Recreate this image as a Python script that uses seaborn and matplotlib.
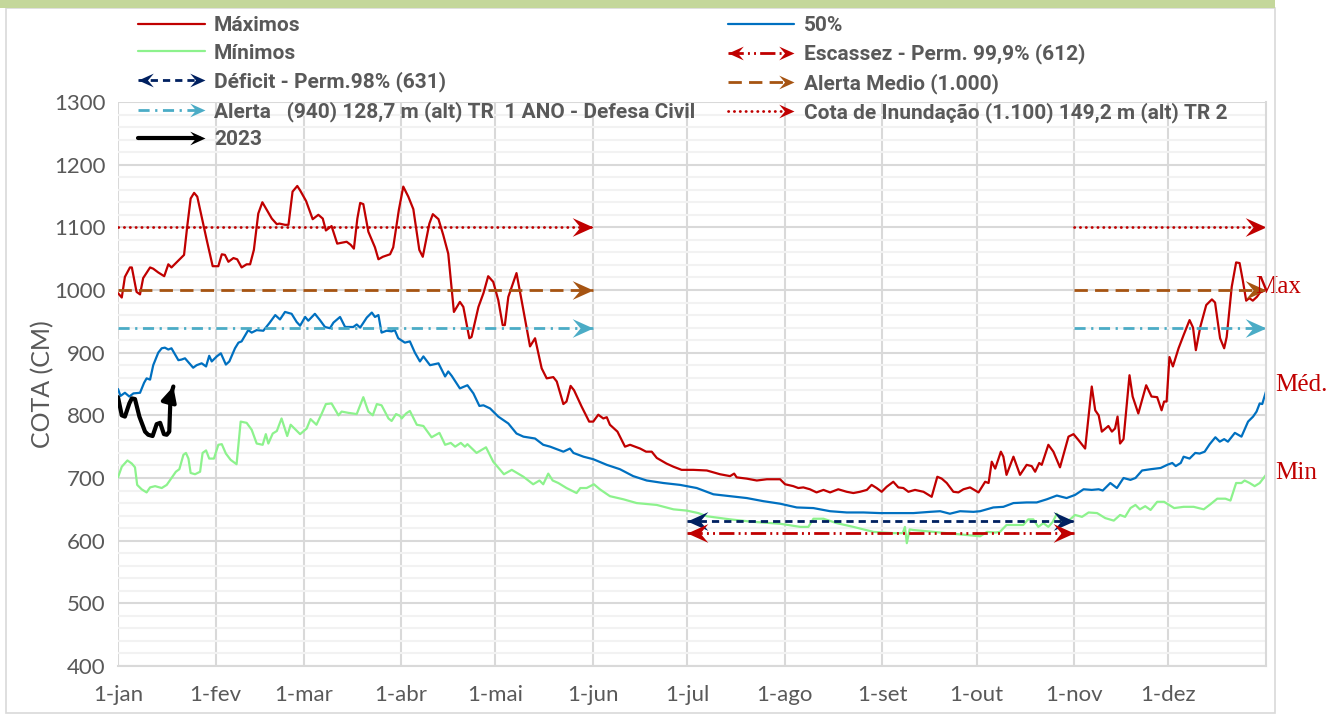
import numpy as np
import pandas as pd
import seaborn as sns
import matplotlib
matplotlib.use('Agg')
from matplotlib import pyplot as plt
from matplotlib.lines import Line2D
from matplotlib.path import Path
from matplotlib.patches import Rectangle
from matplotlib.legend_handler import HandlerBase

# ---- data (day of year, cota in cm) ----
max_days = [0, 1.2, 2.2, 3.8, 4.4, 5.9, 7, 8, 10.2, 11.2, 12.8, 14.7, 16, 17, 19.2, 21, 22, 23.1, 24.2, 25.2,
            26.6, 28.2, 30.1, 31.9, 33, 34, 35.1, 36.7, 37.9, 39.3, 40.9, 42, 43.2, 44.6, 45.9, 47.3, 48.9, 50.5,
            51.3, 53.1, 54.2, 55.5, 57, 57.9, 59.8, 61.9, 63.7, 65.1, 66.1, 67.9, 69.7, 72.7, 74, 75, 76.1, 77,
            78, 79.6, 81.7, 82.8, 84.2, 86.5, 87.5, 89.3, 90.7, 92.3, 93.9, 95.8, 96.9, 99, 100.1, 101.9, 103.4,
            105, 106.8, 108.7, 109.8, 111.7, 112.4, 114.6, 116.2, 117.7, 119.3, 120.9, 122.3, 123, 124.1, 126.7,
            128.3, 131, 132.6, 134.7, 136.3, 138.4, 139.5, 141.6, 142.6, 143.9, 145, 147.4, 149.8, 151.1, 152.7,
            154.3, 155.4, 156.4, 158.8, 161.2, 162.8, 164.4, 166, 167.9, 169.7, 171.3, 174.4, 176.6, 179.2, 182.9,
            187.2, 191.4, 194.6, 195.9, 196.7, 199.9, 203.1, 206.3, 210.5, 212.1, 214.7, 216.3, 217.9, 220, 222.1,
            224.3, 226.4, 229, 231.7, 233.8, 235.9, 238.1, 239.6, 241.2, 242.8, 244.4, 246.5, 248.1, 249.7, 251.3,
            253.4, 256.1, 257.7, 258.7, 260.5, 261.9, 263.5, 265.6, 267.2, 268.8, 270.9, 273.6, 275.7, 276.8,
            277.8, 278.9, 280.7, 281.5, 282.5, 284.7, 286.8, 288.9, 290.5, 291.6, 292.9, 293.7, 295.8, 297.4,
            299.5, 302.2, 303.8, 305.3, 307.5, 309.6, 310.7, 311.8, 312.8, 314.9, 316, 317, 317.8, 318.6, 319.7,
            321.6, 322.6, 324.4, 326.9, 328.6, 330.4, 331.8, 332.6, 333.4, 334.3, 335.4, 337.2, 338.8, 340.7,
            341.8, 342.7, 344.1, 346, 347.8, 348.8, 350.4, 351.7, 352.5, 354.1, 355.5, 356.6, 357.6, 358.7, 359.7,
            360.8, 362.1, 363.1, 365]
max_vals = [995, 988, 1021, 1036, 1036, 997, 993, 1019, 1036, 1034, 1028, 1022, 1041, 1036, 1047, 1056, 1101, 1146,
            1155, 1149, 1117, 1080, 1038, 1038, 1057, 1056, 1045, 1051, 1049, 1036, 1041, 1041, 1064, 1122, 1140,
            1128, 1114, 1105, 1106, 1104, 1104, 1157, 1166, 1159, 1142, 1113, 1120, 1114, 1095, 1102, 1074, 1077,
            1072, 1066, 1114, 1139, 1137, 1093, 1068, 1049, 1053, 1057, 1068, 1128, 1165, 1149, 1129, 1064, 1053,
            1106, 1121, 1113, 1088, 1058, 965, 981, 973, 923, 925, 973, 995, 1022, 1013, 984, 944, 944, 989, 1027,
            984, 910, 923, 875, 859, 861, 854, 818, 822, 847, 840, 814, 790, 790, 801, 795, 797, 785, 774, 750, 753,
            750, 747, 742, 742, 732, 723, 718, 713, 713, 712, 706, 703, 707, 701, 699, 696, 698, 698, 690, 687, 684,
            685, 682, 677, 681, 677, 682, 678, 676, 678, 681, 689, 684, 678, 686, 694, 685, 684, 678, 681, 678, 673,
            670, 702, 699, 692, 678, 677, 682, 685, 677, 694, 692, 726, 715, 742, 734, 705, 734, 705, 721, 719, 710,
            724, 721, 753, 742, 717, 766, 770, 761, 747, 846, 808, 800, 774, 783, 774, 779, 798, 755, 762, 864, 830,
            803, 848, 830, 829, 808, 822, 822, 893, 878, 907, 928, 952, 940, 904, 941, 976, 985, 980, 923, 907, 925,
            1005, 1044, 1043, 1016, 983, 987, 983, 989, 996, 1000]

med_days = [0, 0.8, 2.2, 3.6, 4.9, 7, 8.3, 9.1, 10.2, 11.2, 12.8, 13.9, 14.9, 16, 17, 19.2, 20.2, 21.3, 23.9, 25,
            26.6, 28, 29, 29.8, 31.4, 32.7, 34.3, 35.4, 37.2, 38.3, 39.3, 41.4, 42.5, 44.1, 46.2, 48.1, 50, 51.5,
            53.1, 55.2, 56.8, 57.9, 59.5, 60.5, 62.6, 64.2, 65.8, 67.4, 68.5, 70.6, 72.2, 74.8, 75.9, 77, 79.1,
            80.7, 81.7, 82.8, 83.8, 85.4, 87, 88, 89.1, 91.2, 92.8, 94.4, 96, 97.1, 99.2, 101.9, 104, 105, 106.1,
            108.7, 111.1, 113, 114.9, 116.2, 118.3, 120.9, 124.1, 126.7, 128.9, 132.6, 135.2, 137.4, 141.6, 143.7,
            144.8, 148, 151.1, 155.4, 159.6, 163.8, 168.1, 173.4, 178.7, 184, 189.3, 194.6, 199.9, 205.2, 210.5,
            215.8, 221.1, 226.4, 231.7, 237, 242.3, 247.6, 252.9, 258.2, 261.4, 264.5, 267.7, 272, 274.1, 278.3,
            281.5, 284.7, 288.9, 292.1, 295.3, 298.5, 301.6, 304.3, 307, 309.6, 311.8, 313.1, 315.5, 317.6, 319.7,
            321.9, 323.5, 325.6, 328.3, 331.5, 333.6, 335.2, 336.3, 337.9, 338.8, 340.7, 342.5, 343.9, 345.5,
            347.1, 348.9, 350.3, 351.7, 352.9, 355.1, 357.2, 359.3, 360.9, 362, 363, 363.8, 365]
med_vals = [842, 831, 836, 830, 835, 836, 852, 859, 857, 880, 900, 907, 908, 905, 907, 888, 889, 891, 876, 880, 883,
            878, 895, 886, 894, 899, 881, 886, 907, 916, 918, 936, 932, 936, 935, 947, 960, 953, 965, 962, 949, 943,
            957, 951, 962, 952, 941, 939, 948, 957, 941, 941, 945, 940, 956, 964, 957, 960, 932, 935, 934, 936, 923,
            916, 918, 900, 886, 894, 880, 883, 862, 870, 863, 843, 848, 835, 815, 816, 811, 798, 787, 771, 766, 763,
            753, 750, 742, 747, 740, 734, 730, 721, 714, 703, 696, 692, 689, 684, 674, 671, 668, 663, 659, 653, 652,
            647, 645, 645, 644, 644, 644, 646, 647, 643, 647, 646, 647, 653, 654, 660, 661, 661, 666, 672, 668, 673,
            682, 681, 682, 680, 692, 684, 700, 697, 700, 712, 714, 716, 721, 724, 719, 724, 734, 731, 740, 739, 742,
            754, 765, 758, 762, 758, 772, 766, 790, 798, 806, 819, 818, 838]

min_days = [0, 1.2, 3, 4.4, 5.4, 6.1, 7.5, 9.1, 10.2, 11.8, 13.9, 15.5, 17, 18.4, 19.5, 20.8, 21.6, 22.4, 23.1,
            24.5, 26.1, 26.9, 28, 29, 30.5, 31.9, 33, 34.3, 35.8, 37.7, 39, 40.9, 42.5, 44.1, 46, 47, 47.8, 49.2,
            50.5, 52, 53.8, 54.9, 57.9, 60, 61.2, 63.1, 64.8, 66.1, 67.9, 70.1, 71.1, 73.2, 75.9, 78, 79.6, 81,
            82.3, 83.8, 86, 87, 88.4, 89.7, 90.2, 91.6, 92.8, 95, 97.1, 99.7, 102.2, 104, 105.8, 107.2, 109, 110.3,
            111.1, 114, 117, 119.3, 122.7, 125.2, 128.9, 132, 134, 135.2, 136.8, 138.2, 140, 142.6, 145.8, 147, 149,
            151.3, 153.2, 156.4, 160.7, 164.9, 171.3, 176.6, 180.8, 184.5, 187.2, 194.6, 202, 210.5, 216.9, 219.5,
            221.1, 224.3, 228.5, 233.8, 240.2, 246.5, 249.5, 250.2, 250.8, 251.7, 252.9, 259.3, 265.6, 274.1,
            276.3, 278.9, 280.4, 282.5, 287.8, 289.4, 291, 292.6, 294.2, 295.8, 297.2, 298.5, 300.1, 301.6, 304.3,
            306.5, 308.6, 311.3, 313.9, 316.6, 318.6, 320.2, 321.9, 323.5, 324.9, 326.6, 328.3, 330.4, 332.6,
            335.8, 338.8, 342, 345.2, 347.3, 349.5, 352.1, 353.7, 355.5, 357.2, 358.2, 359.8, 361.4, 363, 365]
min_vals = [701, 718, 728, 723, 717, 689, 682, 677, 685, 687, 684, 689, 700, 710, 714, 737, 740, 731, 708, 706, 710,
            740, 744, 731, 731, 753, 754, 739, 729, 722, 790, 788, 777, 755, 753, 770, 755, 771, 775, 795, 767, 785,
            770, 779, 794, 785, 803, 818, 819, 800, 806, 804, 802, 829, 806, 800, 818, 816, 795, 791, 802, 799, 795,
            803, 807, 785, 783, 765, 772, 753, 756, 750, 756, 750, 754, 740, 749, 726, 706, 713, 702, 690, 696, 690,
            707, 696, 692, 684, 676, 684, 684, 690, 682, 671, 666, 660, 657, 650, 648, 644, 639, 634, 630, 627, 622,
            622, 635, 635, 628, 622, 614, 612, 612, 622, 596, 618, 617, 614, 611, 607, 614, 613, 614, 625, 625, 634,
            634, 622, 628, 622, 630, 643, 630, 629, 641, 638, 645, 644, 636, 632, 641, 638, 652, 657, 650, 655, 649,
            662, 662, 652, 654, 654, 650, 658, 667, 667, 664, 692, 692, 696, 692, 687, 692, 705]

y2023_days = [0, 1.2, 2.2, 3.6, 4.4, 5.4, 6.8, 8.6, 9.6, 11, 12.3, 13.4, 14.6, 15.5, 16.3, 16.7, 17.6]
y2023_vals = [829, 800, 798, 819, 827, 826, 798, 774, 769, 767, 786, 788, 770, 769, 774, 830, 846]

# reference levels
cheia_levels = [1100, 1000, 940]          # inundação, alerta medio, alerta
cheia_ranges = [(0, 151), (304, 365)]
seca_levels = [631, 612]                  # déficit, escassez
seca_range = (181, 304)

month_days = [0, 31, 59, 90, 120, 151, 181, 212, 243, 273, 304, 334]
month_labels = ['1-jan', '1-fev', '1-mar', '1-abr', '1-mai', '1-jun', '1-jul', '1-ago', '1-set', '1-out',
                '1-nov', '1-dez']

legend_labels = ['Máximos', 'Mínimos', 'Déficit - Perm.98% (631)',
                 'Alerta   (940) 128,7 m (alt) TR  1 ANO - Defesa Civil', '2023',
                 '50%', 'Escassez - Perm. 99,9% (612)', 'Alerta Medio (1.000)',
                 'Cota de Inundação (1.100) 149,2 m (alt) TR 2']

# ---- styles ----
RED = '#C00000'
BLUE = '#0070C0'
GREEN = '#8DF28D'
NAVY = '#002060'
BROWN = '#A65412'
CYAN = '#4BACC6'
GRAY = '#595959'

HEAD_R = Path([(0, 0), (-1, 0.45), (-0.62, 0), (-1, -0.45), (0, 0)],
              [Path.MOVETO, Path.LINETO, Path.LINETO, Path.LINETO, Path.CLOSEPOLY])
HEAD_L = Path([(0, 0), (1, 0.45), (0.62, 0), (1, -0.45), (0, 0)],
              [Path.MOVETO, Path.LINETO, Path.LINETO, Path.LINETO, Path.CLOSEPOLY])

sty_inund = dict(color=RED, dashes=(0.1, 2.0), dash_capstyle='round')
sty_medio = dict(color=BROWN, dashes=(4.8, 2.6))
sty_alerta = dict(color=CYAN, dashes=(4, 2, 0.8, 2))
sty_deficit = dict(color=NAVY, dashes=(2.6, 1.8))
sty_escassez = dict(color=RED, dashes=(5.5, 1.5, 0.7, 1.5, 0.7, 1.5))
cheia_styles = [sty_inund, sty_medio, sty_alerta]
seca_styles = [sty_deficit, sty_escassez]

sns.set_style('white')
SANS = ['Lato', 'DejaVu Sans']
plt.rcParams['font.family'] = SANS

fig = plt.figure(figsize=(13.36, 7.17), dpi=100)
fig.add_artist(Rectangle((6 / 1336, 4 / 717), 1269 / 1336, 705 / 717, transform=fig.transFigure,
                         facecolor='none', edgecolor='#D9D9D9', lw=1.2))
fig.add_artist(Rectangle((0, 1 - 8 / 717), 1275 / 1336, 8 / 717, transform=fig.transFigure,
                         facecolor='#C4D79B', edgecolor='none'))
ax = fig.add_axes([118 / 1336, 51 / 717, 1148 / 1336, 564 / 717])

# grid
ax.set_xlim(0, 365)
ax.set_ylim(400, 1300)
ax.set_yticks(range(400, 1301, 100))
ax.set_yticks(range(400, 1301, 20), minor=True)
ax.set_xticks(month_days)
ax.set_xticklabels(month_labels)
ax.grid(True, which='major', axis='both', color='#D9D9D9', lw=1.5)
ax.grid(True, which='minor', axis='y', color='#F2F2F2', lw=1.5)
ax.set_axisbelow(True)
for s in ['top', 'left']:
    ax.spines[s].set_visible(False)
ax.spines['bottom'].set_color('#D9D9D9')
ax.spines['bottom'].set_linewidth(1.5)
ax.spines['right'].set_color('#D9D9D9')
ax.spines['right'].set_linewidth(1.5)
ax.tick_params(axis='x', which='major', length=7, width=1.5, color='#D9D9D9', labelsize=16,
               labelcolor=GRAY, pad=7)
ax.tick_params(axis='y', which='both', length=0, labelsize=16, labelcolor=GRAY, pad=9)
ax.set_ylabel('COTA (CM)', fontsize=18, color=GRAY, labelpad=0)
ax.set_xlabel('')

# series
sns.lineplot(x=max_days, y=max_vals, ax=ax, color=RED, lw=1.6, sort=False, estimator=None)
sns.lineplot(x=med_days, y=med_vals, ax=ax, color=BLUE, lw=1.6, sort=False, estimator=None)
sns.lineplot(x=min_days, y=min_vals, ax=ax, color=GREEN, lw=1.6, sort=False, estimator=None)

# reference lines with arrow heads
for lvl, st in zip(cheia_levels, cheia_styles):
    for a, b in cheia_ranges:
        ax.plot([a, b], [lvl, lvl], lw=2, **st)
        ax.plot([b], [lvl], ls='none', marker=HEAD_R, ms=30, color=st['color'], mew=0)
for lvl, st in zip(seca_levels, seca_styles):
    a, b = seca_range
    ax.plot([a, b], [lvl, lvl], lw=2, **st)
    ax.plot([b], [lvl], ls='none', marker=HEAD_R, ms=30, color=st['color'], mew=0)
    ax.plot([a], [lvl], ls='none', marker=HEAD_L, ms=30, color=st['color'], mew=0)

# 2023
sns.lineplot(x=y2023_days, y=y2023_vals, ax=ax, color='black', lw=3, sort=False, estimator=None)
ax.annotate('', xy=(y2023_days[-1], y2023_vals[-1]), xytext=(y2023_days[-2], y2023_vals[-2]),
            arrowprops=dict(arrowstyle='-|>', color='black', lw=3, mutation_scale=22, shrinkA=0, shrinkB=0))

# labels on right
serif = ['Liberation Serif', 'DejaVu Serif']
ax.text(361.5, 1005, 'Max', color=RED, fontsize=18, family=serif, va='center', ha='left', clip_on=False)
ax.text(368, 848, 'Méd.', color=RED, fontsize=18, family=serif, va='center', ha='left', clip_on=False)
ax.text(368, 708, 'Min', color=RED, fontsize=18, family=serif, va='center', ha='left', clip_on=False)


# legend
class RefLine:
    def __init__(self, style, left=False, lw=2, ms=22):
        self.style = style
        self.left = left
        self.lw = lw
        self.ms = ms


class RefHandler(HandlerBase):
    def create_artists(self, legend, orig, xd, yd, width, height, fontsize, trans):
        y = height / 2 - yd
        x0, x1 = -xd, -xd + width
        arts = [Line2D([x0, x1 - 4], [y, y], lw=orig.lw, transform=trans, **orig.style),
                Line2D([x1], [y], ls='none', marker=HEAD_R, ms=orig.ms, mew=0,
                       color=orig.style['color'], transform=trans)]
        if orig.left:
            arts.append(Line2D([x0], [y], ls='none', marker=HEAD_L, ms=orig.ms, mew=0,
                               color=orig.style['color'], transform=trans))
        return arts


handles = [Line2D([], [], color=RED, lw=1.6),
           Line2D([], [], color=GREEN, lw=1.6),
           RefLine(sty_deficit, left=True),
           RefLine(sty_alerta),
           RefLine(dict(color='black'), lw=3),
           Line2D([], [], color=BLUE, lw=1.6),
           RefLine(sty_escassez, left=True),
           RefLine(sty_medio),
           RefLine(sty_inund)]

leg = fig.legend(handles, legend_labels, ncol=2, loc='upper left',
                 bbox_to_anchor=(138 / 1336, 1 - 16 / 717), frameon=False, borderpad=0, borderaxespad=0,
                 handlelength=3.2, handletextpad=0.45, columnspacing=1.55, labelspacing=0.42,
                 prop={'family': ['Roboto', 'DejaVu Sans'], 'weight': 'bold', 'size': 15},
                 handler_map={RefLine: RefHandler()})
for t in leg.get_texts():
    t.set_color(GRAY)

fig.savefig('out.png', dpi=100)
